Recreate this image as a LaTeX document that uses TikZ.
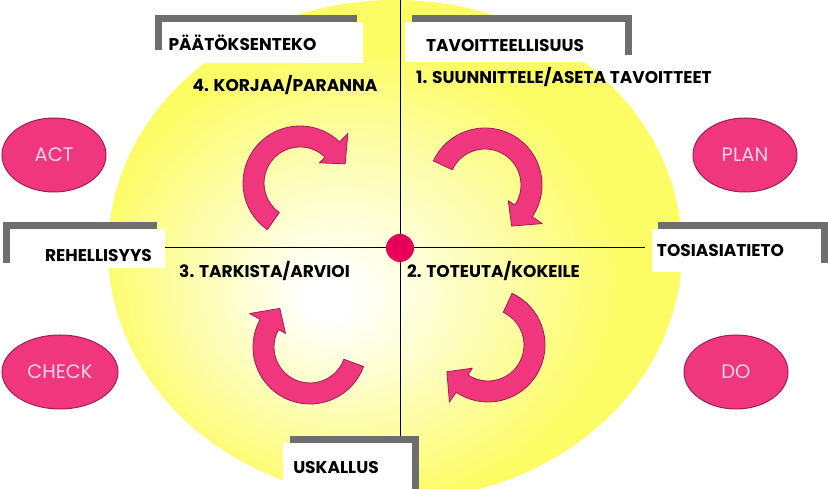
\documentclass[tikz,border=0pt]{standalone}
\usepackage{fontspec}
\setmainfont{Poppins}
\usetikzlibrary{shapes.geometric, calc}

\definecolor{glow}{RGB}{252,252,100}
\definecolor{phasepink}{RGB}{240,55,125}
\definecolor{phaseedge}{RGB}{160,30,85}
\definecolor{hubpink}{RGB}{232,0,88}
\definecolor{bracketgray}{RGB}{110,110,110}
\definecolor{phasetext}{RGB}{255,215,232}

\pgfdeclareradialshading{yellowglow}{\pgfpoint{-6bp}{-5bp}}{color(0bp)=(white); color(2bp)=(white); color(14bp)=(glow!55!white); color(23bp)=(glow); color(50bp)=(glow)}

\tikzset{
  namebox/.style={fill=white, inner sep=0pt},
  namelabel/.style={anchor=base, inner sep=0pt, font=\bfseries\fontsize{17}{17}\selectfont},
  steplabel/.style={anchor=base, inner sep=0pt, font=\bfseries\fontsize{17}{17}\selectfont},
  phase/.style={ellipse, draw=phaseedge, line width=1pt, fill=phasepink, text=phasetext,
    font=\fontsize{19.5}{19.5}\selectfont, minimum height=74, inner sep=0pt},
  bracket/.style={draw=bracketgray, line width=7pt},
  cyclearrow/.style={draw=phaseedge, line width=0.8pt, fill=phasepink, line join=round},
  axis/.style={line width=1pt}
}

\begin{document}
\begin{tikzpicture}[x=1pt, y=1pt]
\useasboundingbox (0,0) rectangle (828,489);

% Background glow
\shade[shading=yellowglow] (395,239) ellipse [x radius=287, y radius=250];

% Axes through the hub
\node[circle, fill=hubpink, minimum size=28, inner sep=0pt] (hub) at (400,241) {};
\coordinate (northend) at (400,489);
\coordinate (southend) at (400,52);
\coordinate (westend) at (165,241);
\coordinate (eastend) at (645,241);
\foreach \e in {northend, southend, westend, eastend}
    \draw[axis] (hub) -- (\e);

% Phase ellipses
\foreach \x/\y/\w/\t in {54/334/104/ACT, 745/334/104/PLAN, 60/117/116/CHECK, 736/117/104/DO}
    \node[phase, minimum width=\w] (\t) at (\x,\y) {\t};

% Curved arrows, one per quadrant
\foreach \cx/\cy/\tail in {300/306/235, 485/304/155, 488/144/65, 310/142/-20} {
    \pgfmathsetmacro{\head}{\tail-189}
    \pgfmathsetmacro{\tip}{\head-23}
    \filldraw[cyclearrow] ($(\cx,\cy)+(\tail:57)$) arc[start angle=\tail, end angle=\head, radius=57]
        -- ($(\cx,\cy)+(\head:69)$) -- ($(\cx,\cy)+(\tip:49)$) -- ($(\cx,\cy)+(\head:28)$)
        -- ($(\cx,\cy)+(\head:36)$) arc[start angle=\head, end angle=\tail, radius=36] -- cycle;
}

% Step labels
\node[steplabel] (korjaa) at (285,397) {4. KORJAA/PARANNA};
\node[steplabel] (suunnittele) at (564,405) {1. SUUNNITTELE/ASETA TAVOITTEET};
\node[steplabel] (tarkista) at (264.5,211) {3. TARKISTA/ARVIOI};
\node[steplabel] (toteuta) at (493.5,211) {2. TOTEUTA/KOKEILE};

% Name boxes with grey brackets
\draw[bracket] (158.5,439) -- (158.5,470.5) -- (357,470.5);
\node[namebox, minimum width=201, minimum height=41] (paatosbox) at (262.5,446.5) {};
\node[namelabel] (paatos) at (242.5,438) {PÄÄTÖKSENTEKO};

\draw[bracket] (412,470.5) -- (628.5,470.5) -- (628.5,434);
\node[namebox, minimum width=220, minimum height=40] (tavoitebox) at (515,447) {};
\node[namelabel] (tavoite) at (505,437) {TAVOITTEELLISUUS};

\draw[bracket] (6.5,226) -- (6.5,263) -- (157,263);
\node[namebox, minimum width=155, minimum height=39] (rehellisbox) at (87.5,240.5) {};
\node[namelabel] (rehellis) at (98.5,227) {REHELLISYYS};

\draw[bracket] (658,263.5) -- (824,263.5) -- (824,226);
\node[namebox, minimum width=169, minimum height=43] (tosiabox) at (736.5,238.5) {};
\node[namelabel] (tosia) at (720.5,232) {TOSIASIATIETO};

\draw[bracket] (290,49) -- (415,49) -- (415,0);
\node[namebox, minimum width=129, minimum height=46] (uskallusbox) at (347.5,23) {};
\node[namelabel] (uskallus) at (336,15) {USKALLUS};
\end{tikzpicture}
\end{document}
